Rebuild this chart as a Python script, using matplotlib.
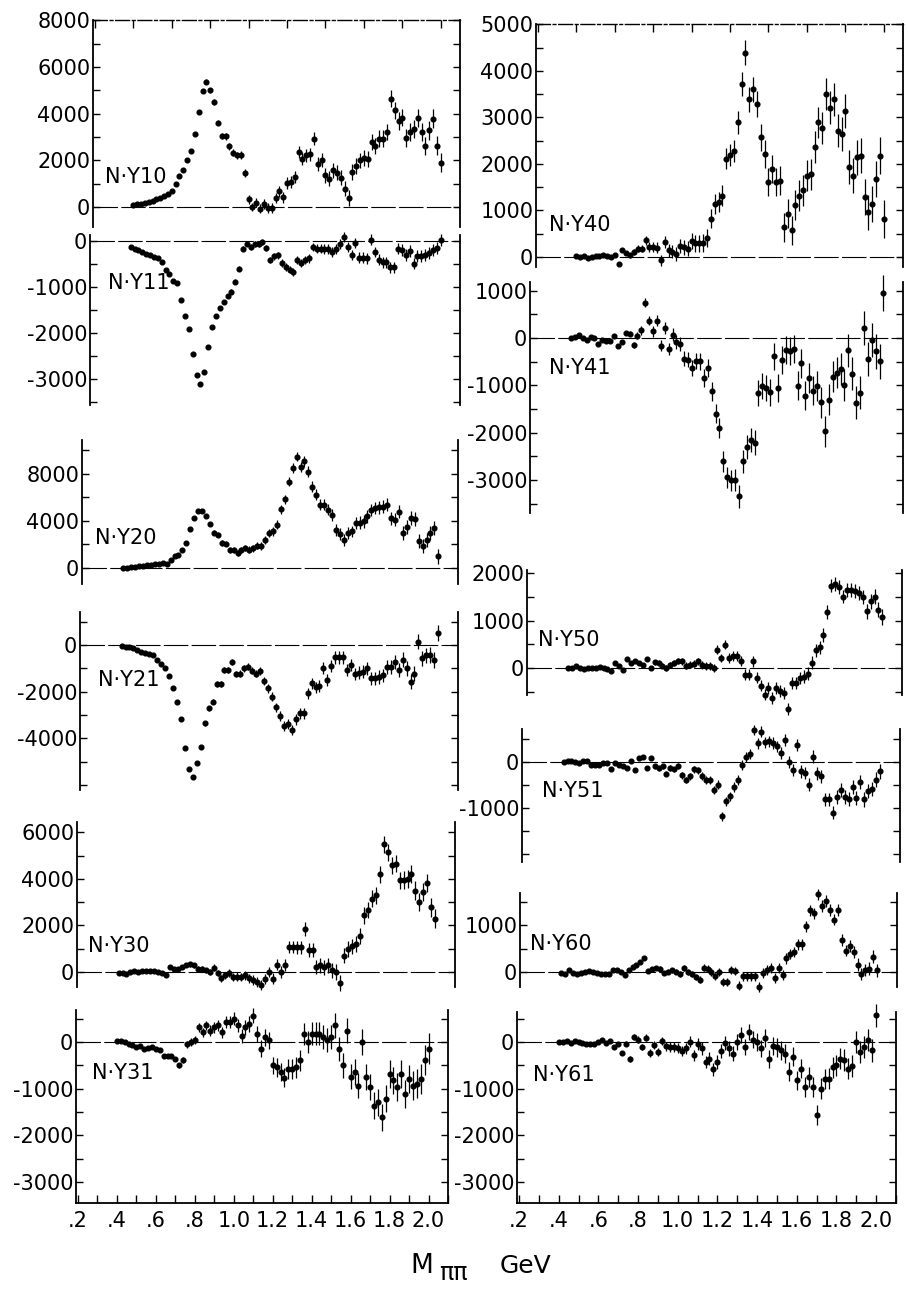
import numpy as np
import matplotlib.pyplot as plt
from matplotlib.ticker import MultipleLocator, FixedLocator, FuncFormatter

plt.rcParams['font.family'] = ['DejaVu Sans']
plt.rcParams['axes.unicode_minus'] = False

# mass bins, GeV
MASS = np.round(np.arange(0.40, 2.0001, 0.02), 2)

# relative size of the error bars per bin (grows with mass)
ERR_PROFILE = [0.08, 0.08, 0.08, 0.08, 0.08, 0.08, 0.09, 0.09, 0.09, 0.10,
               0.10, 0.11, 0.12, 0.13, 0.15, 0.18, 0.22, 0.26, 0.30, 0.32,
               0.34, 0.36, 0.38, 0.40, 0.42, 0.44, 0.46, 0.48, 0.50, 0.52,
               0.54, 0.56, 0.58, 0.60, 0.62, 0.64, 0.66, 0.68, 0.70, 0.72,
               0.74, 0.76, 0.78, 0.80, 0.82, 0.84, 0.86, 0.88, 0.90, 0.92,
               0.94, 0.95, 0.96, 0.97, 0.98, 0.99, 1.00, 1.00, 1.01, 1.02,
               1.03, 1.04, 1.05, 1.06, 1.07, 1.08, 1.09, 1.10, 1.11, 1.12,
               1.13, 1.14, 1.15, 1.16, 1.17, 1.18, 1.19, 1.20, 1.22, 1.24,
               1.26]

NY10 = [110, 130, 140, 170, 210, 270, 330, 400, 470, 560,
        670, 1000, 1350, 1600, 2000, 2400, 3150, 4070, 4970, 5360,
        5000, 4500, 3620, 3030, 3030, 2600, 2320, 2220, 2220, 1460,
        330, 0, 190, -70, 140, -30, -30, 400, 670, 430,
        1030, 1070, 1290, 2360, 2070, 2220, 2260, 2930, 1830, 2030,
        1360, 1220, 1570, 1470, 1260, 790, 400, 1500, 1760, 2000,
        2120, 2040, 2790, 2620, 2930, 2930, 3220, 4650, 4150, 3690,
        3830, 2960, 3220, 3360, 3830, 3220, 2620, 3290, 3790, 2620,
        1900]

NY11 = [-130, -170, -200, -240, -280, -310, -350, -380, -460, -640,
        -710, -860, -910, -1290, -1620, -1910, -2450, -2920, -3100, -2850,
        -2300, -1860, -1620, -1450, -1330, -1200, -1100, -890, -600, -170,
        -60, -130, -70, -70, -20, -150, -410, -330, -310, -480,
        -570, -620, -670, -420, -480, -410, -380, -130, -170, -170,
        -170, -170, -240, -170, -60, 90, -130, -310, -40, -360,
        -360, -380, 30, -240, -410, -460, -460, -570, -570, -170,
        -200, -310, -220, -490, -330, -330, -310, -260, -200, -150,
        20]

NY20 = [0, 0, 60, 80, 140, 140, 230, 280, 340, 370,
        420, 370, 700, 990, 1130, 1550, 2120, 3310, 4200, 4820,
        4820, 4400, 3720, 3000, 2820, 2120, 2060, 1550, 1550, 1270,
        1550, 1690, 1550, 1690, 1890, 1890, 2400, 2960, 3100, 3670,
        4990, 5840, 7330, 8460, 9440, 8600, 9030, 8180, 6910, 6200,
        5360, 5360, 4940, 4510, 3240, 2900, 2400, 2960, 3100, 3810,
        3860, 3950, 4370, 4940, 5080, 5160, 5210, 5360, 4230, 4090,
        4790, 2960, 3460, 4230, 4150, 2260, 1830, 2400, 2960, 3380,
        990]

NY21 = [-40, -70, -100, -140, -210, -290, -330, -390, -430, -620,
        -820, -970, -1330, -1860, -2430, -3190, -4430, -5330, -5650, -5080,
        -4360, -3360, -2720, -2430, -1670, -1670, -1070, -1070, -720, -1240,
        -1220, -1000, -930, -1100, -1220, -1100, -1530, -1860, -2220, -2670,
        -3050, -3480, -3390, -3650, -3190, -2930, -2930, -2070, -1640, -1820,
        -1760, -1000, -1500, -900, -530, -530, -530, -1070, -860, -1240,
        -1190, -1140, -1000, -1430, -1430, -1360, -1300, -930, -930, -720,
        -1070, -620, -1000, -1570, -1220, 140, -570, -430, -430, -650,
        530]

NY30 = [-30, -30, -70, 0, 40, 0, 30, 40, 30, 30,
        0, -60, -140, 210, 140, 140, 210, 290, 330, 290,
        140, 140, 70, 0, 190, -40, -260, -140, -40, -210,
        -190, -210, -140, -260, -330, -430, -570, -290, 0, -290,
        320, 0, 290, 1070, 1070, 1070, 1070, 1860, 930, 930,
        210, 290, 210, 290, 70, 0, -470, 710, 1000, 1100,
        1220, 1530, 2430, 2650, 3150, 3290, 4190, 5480, 5150, 4580,
        4650, 3930, 3960, 4000, 4220, 3500, 3000, 3430, 3820, 2790,
        2290]

NY31 = [15, 15, 0, -35, -70, -110, -90, -140, -120, -110,
        -140, -160, -290, -290, -290, -360, -500, -390, -50, 0,
        50, 320, 210, 360, 250, 320, 360, 210, 430, 430,
        500, 360, 140, 320, 390, 570, 180, -140, 110, 40,
        -500, -540, -640, -760, -570, -570, -540, -390, 180, 0,
        180, 180, 180, 110, 50, 110, 360, -140, -500, 250,
        -740, -640, -930, 0, -740, -960, -1360, -1290, -1610, -1210,
        -680, -820, -960, -680, -1110, -790, -930, -890, -790, -380,
        -140]

NY40 = [15, 0, 15, -15, 0, 15, 15, 35, 15, 0,
        35, -140, 140, 90, 35, 110, 180, 180, 360, 210,
        210, 200, -70, 320, 140, 110, 60, 230, 210, 180,
        340, 290, 290, 300, 410, 820, 1140, 1180, 1320, 2110,
        2200, 2280, 2890, 3710, 4390, 3390, 3600, 3280, 2570, 2210,
        1610, 1890, 1610, 1640, 640, 930, 570, 1110, 1320, 1430,
        1750, 1780, 2360, 2890, 2780, 3510, 3210, 3390, 2710, 2640,
        3140, 1930, 1750, 2140, 2180, 1290, 960, 1140, 1680, 2180,
        820]

NY41 = [0, 20, 70, 0, -50, 20, 0, -120, -50, -70,
        -70, 50, -160, -90, 110, 90, -140, 50, 160, 750,
        370, 140, 370, -160, 210, -230, 70, -90, -120, -440,
        -460, -630, -490, -490, -850, -630, -1130, -1600, -1900, -2610,
        -2940, -3010, -3010, -3350, -2610, -2300, -2150, -2210, -1160, -1010,
        -1060, -1150, -390, -1060, -470, -250, -280, -230, -1010, -530,
        -1220, -850, -1110, -1010, -1360, -1970, -1300, -820, -730, -650,
        -990, -260, -750, -1370, -1160, 210, -440, -40, -280, -490,
        950]

NY50 = [0, 0, 35, 0, -15, 0, 0, 0, 20, 0,
        -20, -70, 110, 35, -35, 180, 110, 140, 110, 70,
        190, 0, 120, 110, 50, 0, 70, 110, 140, 140,
        50, 70, 90, 140, 70, 35, 35, 0, 390, 210,
        490, 210, 250, 250, 140, -140, -140, 140, -210, -370,
        -560, -420, -630, -420, -490, -530, -870, -320, -320, -210,
        -180, -120, 110, 370, 440, 700, 1180, 1740, 1780, 1710,
        1510, 1640, 1650, 1620, 1580, 1500, 1200, 1410, 1500, 1230,
        1080]

NY51 = [0, 15, 30, 0, -10, 15, 30, -60, -60, -60,
        -20, -10, -150, -20, -60, -90, -130, 30, -180, 90,
        110, -130, 90, -90, -130, -90, -250, -130, -160, -90,
        -290, -390, -310, -160, -180, -300, -390, -390, -610, -490,
        -1180, -850, -740, -540, -380, -60, 110, 180, 700, 410,
        660, 430, 450, 410, 340, 190, 480, 10, -180, 370,
        -200, -240, -490, 120, -240, -310, -810, -810, -1100, -760,
        -610, -760, -800, -540, -780, -440, -810, -630, -580, -380,
        -200]

NY60 = [-20, -40, 40, -20, -40, -10, 0, 20, 0, -20,
        -40, -50, -50, 40, 40, 0, -70, 40, 110, 140,
        210, 290, 20, 70, 90, 70, -20, 10, 40, 10,
        -40, 90, 0, -40, -110, -160, 90, 70, 0, -90,
        0, -210, -210, 40, 20, -290, -90, -90, -90, -90,
        -320, -20, 50, 90, -120, 90, -70, 290, 380, 430,
        590, 590, 980, 1320, 1260, 1660, 1410, 1520, 1330, 1120,
        1330, 680, 460, 550, 430, 160, -50, 40, 70, 330,
        40]

NY61 = [0, 0, 20, -20, 20, 0, -20, -40, -40, -40,
        0, 40, -20, 20, -110, -50, -240, -40, -360, 110,
        50, -110, 90, -240, -70, -210, 20, -90, -110, -110,
        -140, -190, -140, 0, -290, -50, -140, -430, -360, -590,
        -430, -200, -20, -140, -250, 0, 140, -110, 210, 50,
        0, -140, 90, -360, -90, -120, -180, -250, -640, -320,
        -820, -570, -960, -750, -960, -1570, -1000, -790, -790, -540,
        -500, -360, -390, -570, -520, 0, -210, -110, 40, -180,
        570]

W, H = 908, 1289
fig = plt.figure(figsize=(W / 100, H / 100), dpi=100)

# name, data, error scale, frame in px (left, right, top, bottom), y limits,
# labelled ticks, tick step, label position (px), edge of column
panels = [
    ("N·Y10", NY10, 330, (93, 460, 20, 227), (-850, 8010), [0, 2000, 4000, 6000, 8000], 1000, (105, 177), "top"),
    ("N·Y11", NY11, 110, (90, 460, 235, 405), (-3565, 130), [0, -1000, -2000, -3000], 500, (108, 283), ""),
    ("N·Y20", NY20, 500, (82, 458, 440, 584), (-1350, 10850), [0, 4000, 8000], 2000, (95, 538), ""),
    ("N·Y21", NY21, 270, (80, 458, 612, 790), (-6220, 1420), [0, -2000, -4000], 1000, (98, 680), ""),
    ("N·Y30", NY30, 330, (77, 455, 822, 987), (-640, 6440), [0, 2000, 4000, 6000], 1000, (88, 946), ""),
    ("N·Y31", NY31, 260, (76, 448, 1010, 1203), (-3450, 690), [0, -1000, -2000, -3000], 500, (92, 1073), "bottom"),
    ("N·Y40", NY40, 320, (536, 903, 24, 267), (-215, 5005), [0, 1000, 2000, 3000, 4000, 5000], 500, (549, 225), "top"),
    ("N·Y41", NY41, 300, (530, 903, 282, 513), (-3700, 1185), [1000, 0, -1000, -2000, -3000], 500, (549, 368), ""),
    ("N·Y50", NY50, 130, (527, 902, 570, 695), (-570, 2070), [0, 1000, 2000], 500, (538, 640), ""),
    ("N·Y51", NY51, 130, (522, 900, 729, 862), (-2170, 720), [0, -1000], 500, (542, 791), ""),
    ("N·Y60", NY60, 110, (520, 897, 893, 987), (-320, 1690), [0, 1000], 500, (530, 944), ""),
    ("N·Y61", NY61, 200, (517, 896, 1012, 1203), (-3450, 640), [0, -1000, -2000, -3000], 500, (533, 1075), "bottom"),
]

err_profile = np.array(ERR_PROFILE)

for name, vals, escale, frame, ylim, labelled, step, lab, edge in panels:
    l, r, t, b = frame
    ax = fig.add_axes([l / W, 1 - b / H, (r - l) / W, (b - t) / H])
    ax.patch.set_alpha(0)
    ax.set_xlim(0.19, 2.10)
    ax.set_ylim(*ylim)

    ax.axhline(0, color='k', lw=0.8, ls=(0, (22, 3)), zorder=1)
    ax.errorbar(MASS, vals, yerr=escale * err_profile, fmt='o', ms=3.4,
                color='k', mec='k', elinewidth=0.9, capsize=0, zorder=3,
                clip_on=False)

    for side in ('left', 'right'):
        ax.spines[side].set_linewidth(1.3)
    ax.spines['top'].set_visible(edge == "top")
    ax.spines['bottom'].set_visible(edge == "bottom")
    ax.spines['top'].set_linestyle((0, (10, 2, 2, 2)))
    ax.spines['top'].set_linewidth(1.0)
    ax.spines['bottom'].set_linewidth(1.3)

    ax.yaxis.set_major_locator(FixedLocator(labelled))
    ax.yaxis.set_minor_locator(MultipleLocator(step))
    ax.tick_params(axis='y', which='both', direction='in', left=True, right=True,
                   labelleft=True, labelright=False, length=5, width=1.0,
                   labelsize=15, pad=2)

    if edge == "top":
        ax.xaxis.set_major_locator(MultipleLocator(0.2))
        ax.tick_params(axis='x', which='major', direction='in', top=True, bottom=False,
                       labeltop=False, labelbottom=False, length=6, width=1.0)
        ax.tick_params(axis='x', which='minor', top=False, bottom=False)
    elif edge == "bottom":
        ax.xaxis.set_major_locator(MultipleLocator(0.2))
        ax.xaxis.set_minor_locator(MultipleLocator(0.1))
        ax.xaxis.set_major_formatter(FuncFormatter(lambda v, p: ('%.1f' % v).lstrip('0')))
        ax.tick_params(axis='x', which='both', direction='in', top=False, bottom=True,
                       length=6, width=1.0, labelsize=15, pad=6)
    else:
        ax.tick_params(axis='x', which='both', top=False, bottom=False,
                       labelbottom=False)

    fig.text(lab[0] / W, 1 - lab[1] / H, name, fontsize=15, ha='left', va='center')

# axis title
fig.text(410 / W, 1 - 1273 / H, "M", fontsize=19, ha='left', va='baseline')
fig.text(439 / W, 1 - 1280 / H, "ππ", fontsize=17, ha='left', va='baseline')
fig.text(500 / W, 1 - 1273 / H, "GeV", fontsize=18, ha='left', va='baseline')

fig.savefig("out.png", dpi=100)
